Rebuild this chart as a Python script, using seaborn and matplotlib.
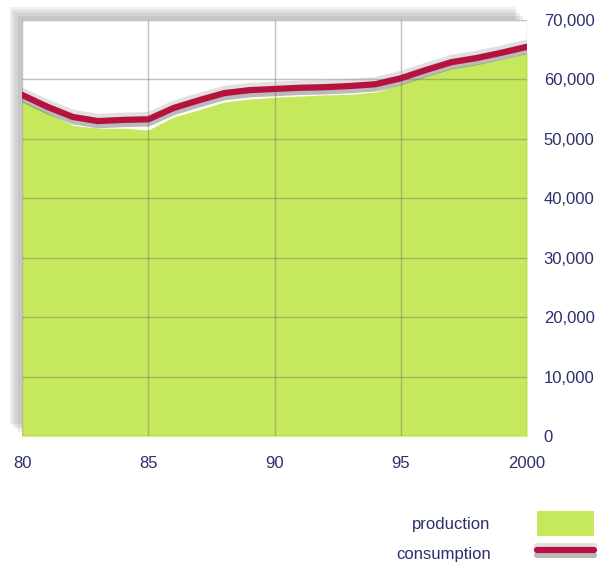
import numpy as np
import pandas as pd
import matplotlib
matplotlib.use("Agg")
import matplotlib.pyplot as plt
import matplotlib.patheffects as pe
import seaborn as sns

# data
years = list(range(1980, 2001))
production = [56400, 54400, 52300, 51800, 51800, 51500, 53700, 54900, 56200, 56700,
              57000, 57200, 57400, 57500, 57900, 59200, 60600, 61900, 62600, 63400, 64500]
consumption = [57400, 55400, 53700, 53000, 53200, 53300, 55200, 56500, 57700, 58200,
               58400, 58600, 58700, 58900, 59200, 60200, 61600, 62900, 63600, 64500, 65500]
x_ticks = [1980, 1985, 1990, 1995, 2000]
x_labels = ["80", "85", "90", "95", "2000"]
y_ticks = [0, 10000, 20000, 30000, 40000, 50000, 60000, 70000]

df = pd.DataFrame({"year": years, "production": production, "consumption": consumption})

sns.set_theme(style="white")
plt.rcParams["font.family"] = ["Liberation Sans", "DejaVu Sans"]
text_color = "#2b2f6b"

fig = plt.figure(figsize=(6.15, 5.71), dpi=100)
ax = fig.add_axes([0.036, 0.236, 0.821, 0.729])

# plot frame with a soft (layered) shadow on the left / top
shadows = [pe.SimplePatchShadow(offset=(-k, k), shadow_rgbFace="#777777", alpha=0.12)
           for k in (9, 7, 5, 3)]
ax.patch.set_facecolor("white")
ax.patch.set_path_effects(shadows + [pe.Normal()])

ax.fill_between(df["year"], 0, df["production"], color="#c6e85c", linewidth=0,
                zorder=1, label="production")
sns.lineplot(data=df, x="year", y="consumption", ax=ax, color="#b5123f", linewidth=4.5,
             zorder=3, label="consumption",
             path_effects=[pe.SimpleLineShadow(offset=(0, -3), shadow_color="#666666", alpha=0.45),
                           pe.SimpleLineShadow(offset=(0, 3), shadow_color="#999999", alpha=0.3),
                           pe.Normal()])

ax.set_xlim(1980, 2000)
ax.set_ylim(0, 70000)
ax.set_xticks(x_ticks)
ax.set_xticklabels(x_labels)
ax.set_yticks(y_ticks)
ax.set_yticklabels([f"{v:,}" for v in y_ticks])
ax.yaxis.tick_right()
ax.tick_params(axis="both", length=0, labelsize=12, labelcolor=text_color)
ax.tick_params(axis="y", pad=12)
ax.tick_params(axis="x", pad=14)
for lab in ax.get_yticklabels():
    lab.set_horizontalalignment("left")
ax.set_xlabel("")
ax.set_ylabel("")

ax.set_axisbelow(False)
ax.grid(True, color="#6f7f5a", alpha=0.45, linewidth=1)
for s in ax.spines.values():
    s.set_visible(False)

if ax.legend_:
    ax.legend_.remove()
handles, labels = ax.get_legend_handles_labels()
leg = fig.legend(handles, labels, loc="lower right", bbox_to_anchor=(0.99, -0.018),
                 frameon=False, markerfirst=False, fontsize=12, handlelength=3.4,
                 handleheight=1.9, labelspacing=0.35, handletextpad=2.8)
for t in leg.get_texts():
    t.set_color(text_color)

fig.savefig("out.png", dpi=100)
